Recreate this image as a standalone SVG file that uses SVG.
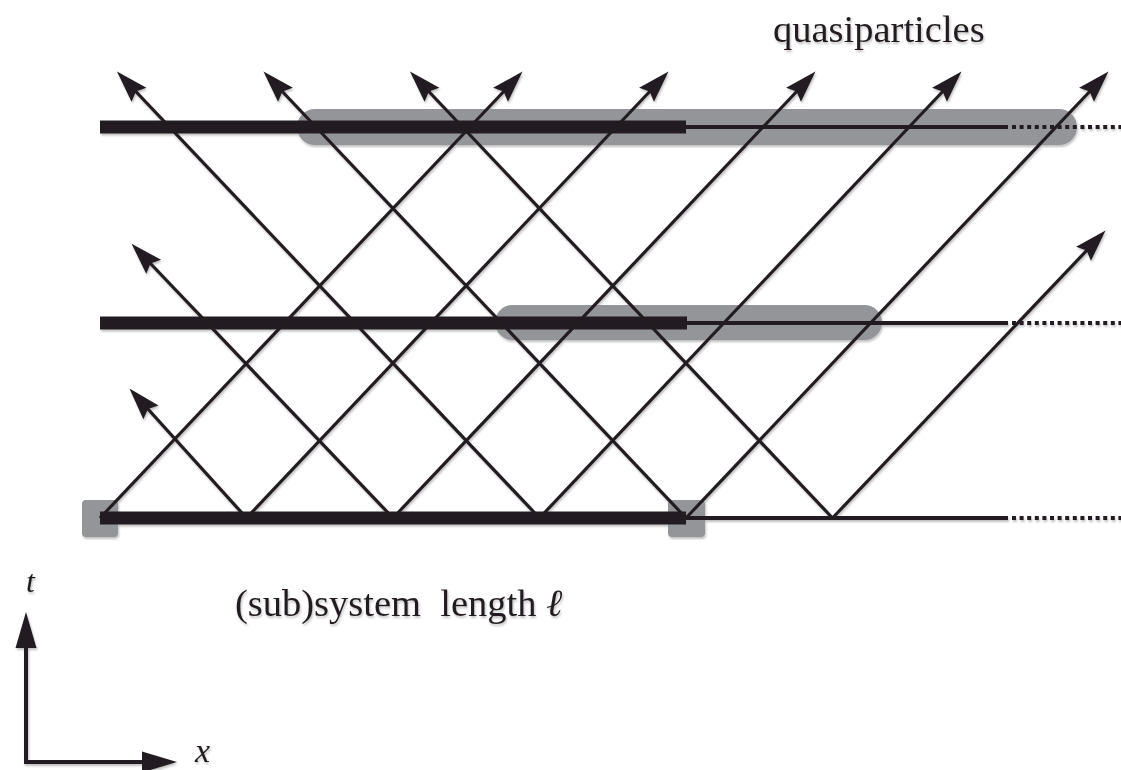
<svg xmlns="http://www.w3.org/2000/svg" width="1121" height="770" viewBox="0 0 1121 770">
<style>
.cap{fill:#939598}
.thick{stroke:#231f20;stroke-width:13;fill:none}
.thin{stroke:#231f20;stroke-width:4;fill:none}
.dot{stroke:#231f20;stroke-width:4;fill:none;stroke-dasharray:4 3.6}
.wl{stroke:#231f20;stroke-width:3.2;fill:none;marker-end:url(#ah)}
.ax{stroke:#231f20;stroke-width:4;fill:none}
.lbl{font-family:"Liberation Serif","DejaVu Serif",serif;fill:#231f20}
</style>
<defs>
<marker id="ah" markerUnits="userSpaceOnUse" orient="auto" refX="0" refY="0" markerWidth="40" markerHeight="30" viewBox="-20 -15 45 30" overflow="visible">
<path d="M20,0 L-16,-11.5 L-11,0 L-16,11.5 Z" fill="#231f20"/>
</marker>
<filter id="sh" x="-5%" y="-5%" width="110%" height="110%">
<feDropShadow dx="1" dy="2" stdDeviation="1.2" flood-color="#000" flood-opacity="0.25"/>
</filter>
</defs>
<g filter="url(#sh)">
<g id="highlights">
<rect class="cap" x="297" y="109" width="780" height="36" rx="18"/>
<rect class="cap" x="495" y="305" width="387" height="35" rx="17.5"/>
<rect class="cap" x="82" y="500" width="36" height="37" rx="4"/>
<rect class="cap" x="668" y="500" width="37" height="37" rx="4"/>
</g>
<g id="bar-top">
<line class="thick" x1="100" y1="127" x2="686" y2="127"/>
<line class="thin" x1="686" y1="127" x2="1008" y2="127"/>
<line class="dot" x1="1012" y1="127" x2="1121" y2="127"/>
</g>
<g id="bar-middle">
<line class="thick" x1="100" y1="323" x2="687" y2="323"/>
<line class="thin" x1="687" y1="323" x2="1008" y2="323"/>
<line class="dot" x1="1012" y1="323" x2="1121" y2="323"/>
</g>
<g id="bar-bottom">
<line class="thick" x1="100" y1="518" x2="686" y2="518"/>
<line class="thin" x1="686" y1="518" x2="1008" y2="518"/>
<line class="dot" x1="1012" y1="518" x2="1121" y2="518"/>
</g>
<g id="worldlines">
<line class="wl" x1="100" y1="518" x2="510.3" y2="84.5"/>
<line class="wl" x1="246.5" y1="518" x2="656.3" y2="84.5"/>
<line class="wl" x1="393" y1="518" x2="803.3" y2="84.5"/>
<line class="wl" x1="539.5" y1="518" x2="949.3" y2="84.5"/>
<line class="wl" x1="686" y1="518" x2="1096.3" y2="84.5"/>
<line class="wl" x1="832.5" y1="518" x2="1093.3" y2="243.5"/>
<line class="wl" x1="246.5" y1="518" x2="141.4" y2="401.8"/>
<line class="wl" x1="393" y1="518" x2="143.8" y2="256.5"/>
<line class="wl" x1="539.5" y1="518" x2="129.2" y2="84.5"/>
<line class="wl" x1="686" y1="518" x2="275.7" y2="84.5"/>
<line class="wl" x1="832.5" y1="518" x2="422.2" y2="84.5"/>
</g>
<g id="axes">
<polyline class="ax" points="26,640 26,762 150,762"/>
<path d="M26,612 L36.5,648 L15.5,648 Z" fill="#231f20"/>
<path d="M177,762 L142,751.5 L142,772.5 Z" fill="#231f20"/>
</g>
<g id="labels">
<text class="lbl" x="773" y="42" font-size="38.5">quasiparticles</text>
<text class="lbl" x="235" y="616" font-size="38.5" style="white-space:pre">(sub)system  length <tspan font-style="italic">ℓ</tspan></text>
<text class="lbl" x="26" y="592" font-size="32" font-style="italic">t</text>
<text class="lbl" x="195" y="762" font-size="34" font-style="italic">x</text>
</g>
</g>
</svg>
